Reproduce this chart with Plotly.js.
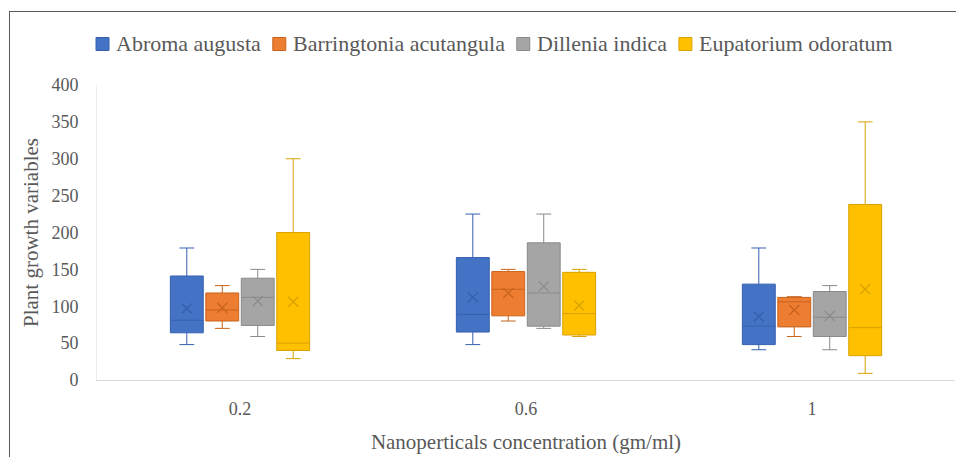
<!DOCTYPE html>
<html>
<head>
<meta charset="utf-8">
<script src="https://cdn.plot.ly/plotly-3.0.1.min.js"></script>
<style>
  html, body { margin: 0; padding: 0; background: #fff; overflow: hidden; }
  #wrap { position: relative; width: 956px; height: 457px; }
  #chart { position: absolute; left: 0; top: 0; width: 956px; height: 457px; }
  .frame { position: absolute; background: #595959; z-index: 10; pointer-events: none; }
</style>
</head>
<body>
<div id="wrap">
  <div id="chart"></div>
  <div class="frame" style="left:9px; top:11px; width:1px; height:446px;"></div>
  <div class="frame" style="left:9px; top:11px; width:947px; height:1px;"></div>
</div>
<script>
// ---- data ----
const categories = ["0.2", "0.6", "1"];
const seriesNames = ["Abroma augusta", "Barringtonia acutangula", "Dillenia indica", "Eupatorium odoratum"];

const abromaLower  = [48, 48, 41];
const abromaQ1     = [64, 65, 48];
const abromaMedian = [81, 89, 73];
const abromaQ3     = [141, 166, 130];
const abromaUpper  = [179, 225, 179];
const abromaMean   = [97, 112, 86];

const barringLower  = [70, 80, 59];
const barringQ1     = [80, 87, 72];
const barringMedian = [95, 123, 106];
const barringQ3     = [118, 147, 112];
const barringUpper  = [128, 150, 113];
const barringMean   = [98, 118, 95];

const dilleniaLower  = [59, 70, 41];
const dilleniaQ1     = [74, 73, 59];
const dilleniaMedian = [112, 118, 85];
const dilleniaQ3     = [138, 186, 120];
const dilleniaUpper  = [150, 225, 128];
const dilleniaMean   = [107, 127, 87];

const eupatLower  = [29, 59, 9];
const eupatQ1     = [40, 61, 33];
const eupatMedian = [50, 90, 71];
const eupatQ3     = [200, 146, 238];
const eupatUpper  = [300, 150, 350];
const eupatMean   = [106, 101, 123];

const yTicks = [0, 50, 100, 150, 200, 250, 300, 350, 400];

// ---- styles ----
const fills = ["#4472C4", "#ED7D31", "#A5A5A5", "#FFC000"];
const lines = ["#3560AE", "#C8631D", "#8A8A8A", "#D9A200"];
const series = [
  [abromaLower, abromaQ1, abromaMedian, abromaQ3, abromaUpper, abromaMean],
  [barringLower, barringQ1, barringMedian, barringQ3, barringUpper, barringMean],
  [dilleniaLower, dilleniaQ1, dilleniaMedian, dilleniaQ3, dilleniaUpper, dilleniaMean],
  [eupatLower, eupatQ1, eupatMedian, eupatQ3, eupatUpper, eupatMean]
];
const step = 0.124, boxW = 0.115;
const font = '"Liberation Serif"';
const grey = "#595959";

const W = 956, H = 457;
const M = { l: 97, r: 1, t: 85, b: 77 };
const plotW = W - M.l - M.r, plotH = H - M.t - M.b;

const traces = [];
series.forEach((s, k) => {
  const xs = categories.map((c, i) => i + (k - 1.5) * step);
  traces.push({
    type: "box", name: seriesNames[k], x: xs, showlegend: false,
    lowerfence: s[0], q1: s[1], median: s[2], q3: s[3], upperfence: s[4],
    width: boxW, whiskerwidth: 0.45, boxpoints: false,
    fillcolor: fills[k], line: { color: lines[k], width: 1 },
    hoverinfo: "skip"
  });
});
series.forEach((s, k) => {
  const xs = categories.map((c, i) => i + (k - 1.5) * step);
  traces.push({
    type: "scatter", mode: "markers", x: xs, y: s[5], showlegend: false,
    marker: { symbol: "x-thin", size: 10, line: { color: lines[k], width: 1.3 } },
    hoverinfo: "skip"
  });
});

// ---- custom legend (Excel-like spacing) ----
const legendSize = 22;
const cv = document.createElement("canvas").getContext("2d");
cv.font = legendSize + 'px "Liberation Serif"';
const px2x = p => (p - M.l) / plotW;
const py2y = p => (H - M.b - p) / plotH;
const shapes = [], annotations = [];
let lx = 96;
const legY = 44, sq = 13;
seriesNames.forEach((n, k) => {
  shapes.push({
    type: "rect", xref: "paper", yref: "paper",
    x0: px2x(lx), x1: px2x(lx + sq), y0: py2y(legY - sq / 2), y1: py2y(legY + sq / 2),
    fillcolor: fills[k], line: { color: lines[k], width: 1 }
  });
  const tx = lx + 20;
  annotations.push({
    xref: "paper", yref: "paper", x: px2x(tx), y: py2y(legY), xanchor: "left", yanchor: "middle",
    text: n, showarrow: false, borderpad: 0, borderwidth: 0,
    font: { family: font, size: legendSize, color: grey }
  });
  lx = tx + cv.measureText(n).width + 12;
});

const layout = {
  width: W, height: H,
  margin: M,
  paper_bgcolor: "#fff", plot_bgcolor: "#fff",
  font: { family: font, color: grey, size: 18 },
  showlegend: false,
  shapes: shapes, annotations: annotations,
  xaxis: {
    range: [-0.5, 2.5], tickvals: [0, 1, 2], ticktext: categories,
    showline: true, linecolor: "#d9d9d9", linewidth: 1, showgrid: false, zeroline: false,
    ticks: "", ticklabelstandoff: 12, tickfont: { size: 18, color: grey, family: font },
    title: { text: "Nanoperticals concentration (gm/ml)", font: { size: 21, color: grey, family: font }, standoff: 16 }
  },
  yaxis: {
    range: [0, 400], tickvals: yTicks,
    showline: true, linecolor: "#ececec", linewidth: 1, showgrid: false, zeroline: false,
    ticks: "", ticklabelstandoff: 14, tickfont: { size: 18, color: grey, family: font },
    title: { text: "Plant growth variables", font: { size: 21, color: grey, family: font }, standoff: 7 }
  }
};

Plotly.newPlot("chart", traces, layout, { staticPlot: true, displayModeBar: false });
</script>
</body>
</html>
